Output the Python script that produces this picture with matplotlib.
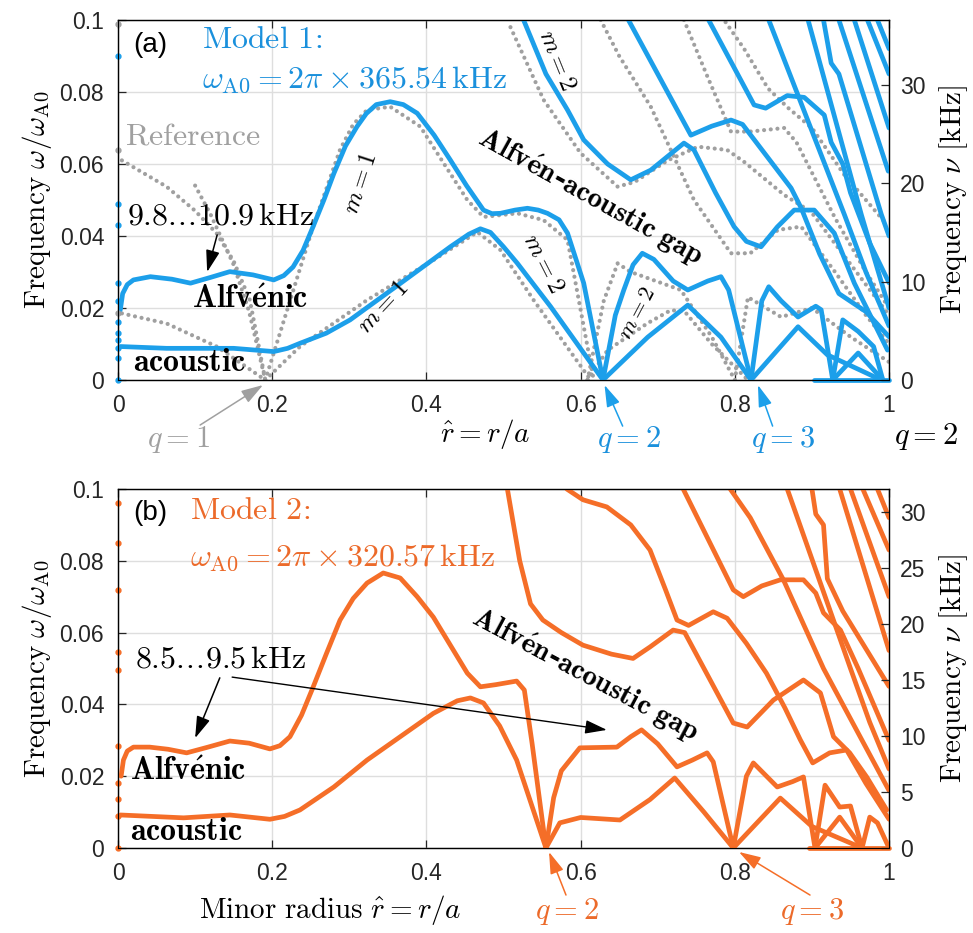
import matplotlib
matplotlib.use('Agg')
import matplotlib.pyplot as plt

plt.rcParams['mathtext.fontset'] = 'cm'
plt.rcParams['font.family'] = ['Liberation Sans', 'DejaVu Sans']

BLUE = '#1c9fea'
BLUE_TXT = '#1a90dc'
ORANGE = '#f56e28'
ORANGE_TXT = '#ec6a2a'
GRAY = '#a0a0a0'

# kHz per unit of omega/omega_A0
F_A0_MODEL1 = 365.54
F_A0_MODEL2 = 320.57

# ---- panel (a), model 1 continua (r, omega/omega_A0) ----
a_alfven = [(0.003, 0.0195), (0.006, 0.024), (0.012, 0.0265), (0.02, 0.0278), (0.042, 0.0287),
            (0.07, 0.028), (0.094, 0.0269), (0.12, 0.0285), (0.145, 0.0301), (0.175, 0.0292),
            (0.202, 0.0278), (0.215, 0.029), (0.227, 0.0314), (0.24, 0.036), (0.253, 0.0426),
            (0.267, 0.05), (0.28, 0.0574), (0.295, 0.065), (0.31, 0.0704), (0.322, 0.074),
            (0.335, 0.0765), (0.353, 0.0773), (0.37, 0.0765), (0.388, 0.0741), (0.41, 0.068),
            (0.431, 0.0611), (0.452, 0.054), (0.474, 0.0472), (0.485, 0.0462), (0.496, 0.0463),
            (0.515, 0.0472), (0.531, 0.0477), (0.545, 0.0472), (0.557, 0.0463), (0.572, 0.0445),
            (0.583, 0.0408), (0.604, 0.0269), (0.629, 0.0)]
a_acoustic = [(0.003, 0.0093), (0.063, 0.0088), (0.15, 0.0088), (0.202, 0.0079), (0.22, 0.0088),
              (0.236, 0.0102), (0.27, 0.013), (0.301, 0.0167), (0.366, 0.0268), (0.431, 0.037),
              (0.455, 0.0405), (0.47, 0.042), (0.483, 0.041), (0.5, 0.037), (0.518, 0.0324),
              (0.561, 0.0204), (0.629, 0.0)]
a_q2_upper = [(0.629, 0.0), (0.645, 0.018), (0.656, 0.025), (0.668, 0.032), (0.68, 0.0352),
              (0.695, 0.0335), (0.72, 0.0275), (0.739, 0.025), (0.765, 0.0275),
              (0.782, 0.0287), (0.792, 0.025), (0.821, 0.0)]
a_q2_lower = [(0.629, 0.0), (0.687, 0.0119), (0.739, 0.0208), (0.782, 0.0119), (0.821, 0.0)]
a_q3_upper = [(0.821, 0.0), (0.835, 0.022), (0.844, 0.0259), (0.86, 0.022), (0.882, 0.0175),
              (0.905, 0.0205), (0.912, 0.0195), (0.927, 0.0)]
a_q3_lower = [(0.821, 0.0), (0.882, 0.0148), (0.92, 0.007), (0.95, 0.004), (0.99, 0.0)]
a_q4_upper = [(0.927, 0.0), (0.94, 0.0167), (0.96, 0.0135), (0.98, 0.0093), (0.992, 0.0)]
a_q4_lower = [(0.927, 0.0), (0.96, 0.0075), (0.992, 0.0)]
a_zero = [(0.903, 0.0), (1.0, 0.0)]
a_m2_top = [(0.526, 0.1), (0.555, 0.085), (0.583, 0.075), (0.604, 0.0667), (0.635, 0.06),
            (0.665, 0.0556), (0.691, 0.0583), (0.734, 0.0658), (0.747, 0.0639), (0.775, 0.052),
            (0.799, 0.0426), (0.815, 0.0385), (0.834, 0.037), (0.855, 0.0425), (0.877, 0.0472),
            (0.903, 0.0472), (0.929, 0.0408), (0.955, 0.0269), (0.998, 0.0083)]
a_c = [(0.662, 0.1), (0.743, 0.068), (0.77, 0.0705), (0.795, 0.0722), (0.81, 0.071),
       (0.873, 0.0533), (0.886, 0.0478), (0.91, 0.035), (0.935, 0.024), (0.97, 0.019), (1.0, 0.012)]
a_d = [(0.766, 0.1), (0.825, 0.0764), (0.84, 0.0755), (0.868, 0.079), (0.89, 0.0785),
       (0.916, 0.0736), (0.925, 0.066), (0.94, 0.06), (0.95, 0.052), (0.975, 0.038), (1.0, 0.027)]
a_s1 = [(0.844, 0.1), (0.942, 0.046), (0.97, 0.03), (1.0, 0.015)]
a_s2 = [(0.895, 0.1), (0.964, 0.046), (1.0, 0.02)]
a_s3 = [(0.915, 0.1), (0.925, 0.088), (0.935, 0.085), (0.99, 0.046), (1.0, 0.04)]
a_s4 = [(0.935, 0.1), (0.999, 0.058)]
a_s5 = [(0.955, 0.1), (1.0, 0.07)]
a_s6 = [(0.972, 0.1), (1.0, 0.085)]
a_s7 = [(0.985, 0.1), (1.0, 0.092)]

# reference continua (gray, dotted)
g_alf_left = [(0.005, 0.061), (0.063, 0.0537), (0.1, 0.047), (0.128, 0.0407), (0.15, 0.033),
              (0.171, 0.0222), (0.191, 0.0)]
g_alf_right = [(0.191, 0.0), (0.21, 0.013), (0.253, 0.0426), (0.288, 0.064), (0.305, 0.071),
               (0.323, 0.075), (0.353, 0.0759), (0.392, 0.0704), (0.42, 0.061), (0.453, 0.05),
               (0.474, 0.0453), (0.518, 0.0463), (0.552, 0.0444), (0.583, 0.0389), (0.617, 0.0)]
g_sparse_left = [(0.1, 0.054), (0.12, 0.046), (0.15, 0.032), (0.17, 0.019), (0.191, 0.0)]
g_ac_left = [(0.005, 0.0185), (0.063, 0.0157), (0.128, 0.0093), (0.191, 0.0)]
g_ac_right = [(0.191, 0.0), (0.236, 0.0093), (0.323, 0.0222), (0.409, 0.0333), (0.466, 0.0411),
              (0.496, 0.0361), (0.539, 0.0222), (0.613, 0.0)]
g_r1 = [(0.609, 0.0), (0.635, 0.0083), (0.687, 0.0158), (0.717, 0.0194), (0.735, 0.019),
        (0.77, 0.01), (0.817, 0.0)]
g_r2 = [(0.609, 0.0), (0.63, 0.022), (0.648, 0.0324), (0.665, 0.03), (0.73, 0.025),
        (0.77, 0.012), (0.8, 0.0)]
g_r3 = [(0.509, 0.098), (0.552, 0.0778), (0.6, 0.063), (0.648, 0.0537), (0.67, 0.055),
        (0.713, 0.061), (0.752, 0.0648), (0.79, 0.0639), (0.812, 0.0606), (0.864, 0.0514),
        (0.899, 0.0467), (0.94, 0.035), (1.0, 0.018)]
g_r4 = [(0.626, 0.1), (0.65, 0.09), (0.691, 0.0759), (0.747, 0.05), (0.795, 0.0352),
        (0.82, 0.0352), (0.856, 0.0417), (0.886, 0.0426), (0.93, 0.03), (0.97, 0.018), (1.0, 0.01)]
g_r5 = [(0.734, 0.1), (0.765, 0.084), (0.795, 0.069), (0.82, 0.069), (0.864, 0.07),
        (0.88, 0.066), (0.93, 0.045), (0.97, 0.03), (1.0, 0.02)]
g_r6 = [(0.788, 0.0994), (0.812, 0.092), (0.843, 0.081), (0.869, 0.0756), (0.9, 0.07),
        (0.942, 0.057), (0.994, 0.044)]
g_r7 = [(0.8, 0.0), (0.817, 0.023), (0.86, 0.0175), (0.9, 0.02), (0.95, 0.012), (1.0, 0.005)]

a_edge_blue = [0.090, 0.049, 0.043, 0.027, 0.022, 0.016, 0.013, 0.011, 0.009, 0.006, 0.0]
a_edge_gray = [0.099, 0.064, 0.0185]

# ---- panel (b), model 2 continua ----
b_alfven = [(0.004, 0.02), (0.007, 0.0245), (0.012, 0.027), (0.02, 0.0281), (0.041, 0.0281),
            (0.065, 0.0275), (0.089, 0.0265), (0.115, 0.028), (0.145, 0.0298), (0.17, 0.0292),
            (0.197, 0.0276), (0.21, 0.0285), (0.223, 0.031), (0.238, 0.037), (0.253, 0.0448),
            (0.27, 0.054), (0.288, 0.0635), (0.305, 0.0695), (0.323, 0.0738), (0.344, 0.0766),
            (0.366, 0.0752), (0.388, 0.07), (0.409, 0.0643), (0.431, 0.0565), (0.453, 0.0487),
            (0.47, 0.0449), (0.49, 0.0455), (0.517, 0.0465), (0.527, 0.044), (0.537, 0.0292),
            (0.555, 0.0)]
b_acoustic = [(0.003, 0.0092), (0.085, 0.0084), (0.145, 0.0092), (0.197, 0.008), (0.216, 0.0088),
              (0.236, 0.0106), (0.28, 0.017), (0.323, 0.0245), (0.366, 0.031), (0.409, 0.0375),
              (0.44, 0.041), (0.457, 0.0418), (0.474, 0.0404), (0.495, 0.034), (0.517, 0.0245),
              (0.555, 0.0)]
b_q2_upper = [(0.555, 0.0), (0.565, 0.014), (0.575, 0.0215), (0.599, 0.0279), (0.647, 0.0281),
              (0.665, 0.031), (0.679, 0.0329), (0.7, 0.029), (0.725, 0.0226), (0.745, 0.0245),
              (0.764, 0.0265), (0.772, 0.024), (0.798, 0.0)]
b_q2_lower = [(0.555, 0.0), (0.573, 0.007), (0.6, 0.0085), (0.651, 0.0078), (0.69, 0.0135),
              (0.722, 0.0195), (0.76, 0.01), (0.798, 0.0)]
b_q3_upper = [(0.798, 0.0), (0.815, 0.02), (0.824, 0.0237), (0.855, 0.017), (0.875, 0.0185),
              (0.889, 0.0198), (0.904, 0.0)]
b_q3_lower = [(0.798, 0.0), (0.859, 0.0139), (0.9, 0.006), (0.965, 0.0)]
b_q4_upper = [(0.904, 0.0), (0.917, 0.0175), (0.936, 0.0114), (0.95, 0.0117), (0.965, 0.0)]
b_q4_lower = [(0.904, 0.0), (0.936, 0.0086), (0.965, 0.0)]
b_q5 = [(0.965, 0.0), (0.975, 0.0086), (0.985, 0.007), (1.0, 0.0)]
b_zero = [(0.896, 0.0), (1.0, 0.0)]
b_c = [(0.505, 0.1), (0.513, 0.09), (0.521, 0.08), (0.535, 0.068), (0.551, 0.0635),
       (0.575, 0.06), (0.603, 0.0565), (0.64, 0.054), (0.668, 0.0528), (0.69, 0.056),
       (0.72, 0.0607), (0.735, 0.06), (0.76, 0.05), (0.798, 0.0348), (0.816, 0.0337),
       (0.85, 0.0412), (0.889, 0.0468), (0.911, 0.0432), (0.928, 0.031), (0.949, 0.0265),
       (0.971, 0.0198), (0.997, 0.0106)]
b_d = [(0.582, 0.1), (0.603, 0.097), (0.634, 0.095), (0.665, 0.09), (0.69, 0.083),
       (0.71, 0.072), (0.725, 0.0635), (0.74, 0.062), (0.772, 0.0658), (0.79, 0.064),
       (0.815, 0.057), (0.841, 0.0487), (0.865, 0.039), (0.885, 0.0301), (0.901, 0.0237),
       (0.923, 0.0265), (0.945, 0.0273), (0.97, 0.018), (1.0, 0.008)]
b_e = [(0.733, 0.1), (0.798, 0.0719), (0.811, 0.07), (0.835, 0.073), (0.859, 0.0747),
       (0.889, 0.0747), (0.905, 0.071), (0.915, 0.0655), (0.937, 0.0607), (0.96, 0.05),
       (1.0, 0.03)]
b_f = [(0.794, 0.1), (0.807, 0.096), (0.82, 0.092), (0.863, 0.0747), (0.915, 0.05),
       (0.96, 0.032), (1.0, 0.016)]
b_s1 = [(0.868, 0.1), (0.95, 0.05), (0.975, 0.035), (1.0, 0.022)]
b_s2 = [(0.9, 0.1), (0.905, 0.093), (0.915, 0.09), (0.92, 0.075), (0.94, 0.066), (1.0, 0.045)]
b_s3 = [(0.936, 0.1), (1.0, 0.055)]
b_s4 = [(0.95, 0.1), (1.0, 0.07)]
b_s5 = [(0.966, 0.1), (1.0, 0.083)]
b_s6 = [(0.985, 0.1), (1.0, 0.092)]

b_edge = [0.096, 0.085, 0.072, 0.0546, 0.0496, 0.0283, 0.018, 0.0137, 0.009, 0.0]


def draw(ax, pts, color, lw=3.4, dotted=False, clip=True):
    r = [p[0] for p in pts]
    w = [p[1] for p in pts]
    if dotted:
        ax.plot(r, w, color=color, lw=3.0, ls=(0, (0.01, 1.6)),
                dash_capstyle='round', clip_on=clip, zorder=2)
    else:
        ax.plot(r, w, color=color, lw=lw, solid_capstyle='round',
                solid_joinstyle='round', clip_on=clip, zorder=3)


def arrow(ax, head, tail, color, lw=1.1):
    ax.annotate('', xy=head, xytext=tail, annotation_clip=False,
                arrowprops=dict(arrowstyle='-|>,head_length=0.95,head_width=0.3',
                                mutation_scale=14, color=color, lw=lw,
                                shrinkA=0, shrinkB=0))


def style_axes(ax, f_a0, right_ticks):
    ax.set_xlim(0, 1)
    ax.set_ylim(0, 0.1)
    ax.set_xticks([0, 0.2, 0.4, 0.6, 0.8, 1])
    ax.set_xticklabels(['0', '0.2', '0.4', '0.6', '0.8', '1'])
    ax.set_yticks([0, 0.02, 0.04, 0.06, 0.08, 0.1])
    ax.set_yticklabels(['0', '0.02', '0.04', '0.06', '0.08', '0.1'])
    ax.grid(True, color='#dedede', lw=1.0, zorder=0)
    ax.set_axisbelow(True)
    ax.tick_params(direction='in', top=True, right=False, labelsize=16.5,
                   length=6, width=0.9, colors='#262626', pad=10)
    for s in ax.spines.values():
        s.set_color('#262626')
        s.set_linewidth(1.0)
    ax.set_ylabel(r'$\mathrm{Frequency}\ \omega/\omega_{\mathrm{A0}}$', fontsize=21, labelpad=4)
    ax2 = ax.twinx()
    ax2.set_ylim(0, 0.1 * f_a0)
    ax2.set_yticks(right_ticks)
    ax2.set_yticklabels([str(t) for t in right_ticks])
    ax2.tick_params(direction='in', labelsize=16.5, length=6, width=0.9,
                    colors='#262626', pad=8)
    ax2.set_ylabel(r'$\mathrm{Frequency}\ \nu\ [\mathrm{kHz}]$', fontsize=21, labelpad=8)
    return ax2


fig = plt.figure(figsize=(9.73, 9.33), dpi=100)
ax_a = fig.add_axes([0.1213, 0.5927, 0.7924, 0.3859])
ax_b = fig.add_axes([0.1213, 0.0911, 0.7924, 0.3848])

# ----- panel (a) -----
style_axes(ax_a, F_A0_MODEL1, [0, 10, 20, 30])
for c in [g_alf_left, g_alf_right, g_sparse_left, g_ac_left, g_ac_right,
          g_r1, g_r2, g_r3, g_r4, g_r5, g_r6, g_r7]:
    draw(ax_a, c, GRAY, dotted=True)
for c in [a_alfven, a_acoustic, a_q2_upper, a_q2_lower, a_q3_upper, a_q3_lower,
          a_q4_upper, a_q4_lower, a_m2_top, a_c, a_d,
          a_s1, a_s2, a_s3, a_s4, a_s5, a_s6, a_s7]:
    draw(ax_a, c, BLUE)
draw(ax_a, a_zero, BLUE, clip=False)
ax_a.plot([0] * len(a_edge_gray), a_edge_gray, 'o', color=GRAY, ms=3.5, clip_on=False, zorder=4)
ax_a.plot([0] * len(a_edge_blue), a_edge_blue, 'o', color=BLUE, ms=3.5, clip_on=False, zorder=4)

ax_a.text(0.02, 0.93, '(a)', transform=ax_a.transAxes, fontsize=20, va='center')
ax_a.text(0.109, 0.944, r'$\mathrm{Model\ 1}\!:$', transform=ax_a.transAxes,
          fontsize=23, color=BLUE_TXT, va='center')
ax_a.text(0.109, 0.835, r'$\omega_{\mathrm{A0}} = 2\pi\times 365.54\,\mathrm{kHz}$',
          transform=ax_a.transAxes, fontsize=23, color=BLUE_TXT, va='center')
ax_a.text(0.009, 0.675, r'$\mathrm{Reference}$', transform=ax_a.transAxes,
          fontsize=23, color=GRAY, va='center')
ax_a.text(0.012, 0.453, r'$9.8.\!.\!.\!10.9\,\mathrm{kHz}$', transform=ax_a.transAxes,
          fontsize=23, va='center')
arrow(ax_a, (0.1156, 0.03), (0.1286, 0.0403), 'k')
ax_a.text(0.096, 0.0222, r'$\mathbf{Alfv\acute{e}nic}$', fontsize=23, va='center')
ax_a.text(0.019, 0.0047, r'$\mathbf{acoustic}$', fontsize=23, va='center')
ax_a.text(0.314, 0.0547, r'$m=1$', fontsize=18, rotation=72, ha='center', va='center')
ax_a.text(0.344, 0.0203, r'$m=1$', fontsize=18, rotation=47, ha='center', va='center')
ax_a.text(0.570, 0.0889, r'$m=2$', fontsize=18, rotation=-68, ha='center', va='center')
ax_a.text(0.552, 0.0325, r'$m=2$', fontsize=18, rotation=-63, ha='center', va='center')
ax_a.text(0.674, 0.0186, r'$m=2$', fontsize=16, rotation=62, ha='center', va='center')
ax_a.text(0.613, 0.0508, r'$\mathbf{Alfv\acute{e}n}$-$\mathbf{acoustic\ gap}$', fontsize=21,
          fontweight='bold', family=['DejaVu Serif'], rotation=-29, ha='center', va='center')

ax_a.text(0.078, -0.0165, r'$q=1$', fontsize=22, color=GRAY, ha='center', va='center')
arrow(ax_a, (0.188, -0.0014), (0.1065, -0.0125), GRAY)
ax_a.text(0.662, -0.0165, r'$q=2$', fontsize=22, color=BLUE_TXT, ha='center', va='center')
arrow(ax_a, (0.631, -0.0014), (0.6545, -0.0128), BLUE)
ax_a.text(0.862, -0.0165, r'$q=3$', fontsize=22, color=BLUE_TXT, ha='center', va='center')
arrow(ax_a, (0.83, -0.0014), (0.849, -0.0128), BLUE)
ax_a.text(1.048, -0.0158, r'$q=2$', fontsize=22, ha='center', va='center', clip_on=False)
ax_a.text(0.476, -0.15, r'$\hat{r} = r/a$', transform=ax_a.transAxes, fontsize=21,
          ha='center', va='center')

# ----- panel (b) -----
style_axes(ax_b, F_A0_MODEL2, [0, 5, 10, 15, 20, 25, 30])
for c in [b_alfven, b_acoustic, b_q2_upper, b_q2_lower, b_q3_upper, b_q3_lower,
          b_q4_upper, b_q4_lower, b_q5, b_c, b_d, b_e, b_f,
          b_s1, b_s2, b_s3, b_s4, b_s5, b_s6]:
    draw(ax_b, c, ORANGE)
draw(ax_b, b_zero, ORANGE, clip=False)
ax_b.plot([0] * len(b_edge), b_edge, 'o', color=ORANGE, ms=3.5, clip_on=False, zorder=4)

ax_b.text(0.02, 0.933, '(b)', transform=ax_b.transAxes, fontsize=20, va='center')
ax_b.text(0.093, 0.94, r'$\mathrm{Model\ 2}\!:$', transform=ax_b.transAxes,
          fontsize=23, color=ORANGE_TXT, va='center')
ax_b.text(0.093, 0.81, r'$\omega_{\mathrm{A0}} = 2\pi\times 320.57\,\mathrm{kHz}$',
          transform=ax_b.transAxes, fontsize=23, color=ORANGE_TXT, va='center')
ax_b.text(0.022, 0.524, r'$8.5.\!.\!.\!9.5\,\mathrm{kHz}$', transform=ax_b.transAxes,
          fontsize=23, va='center')
arrow(ax_b, (0.1, 0.0306), (0.132, 0.0474), 'k')
arrow(ax_b, (0.634, 0.0329), (0.148, 0.0476), 'k', lw=1.0)
ax_b.text(0.016, 0.0212, r'$\mathbf{Alfv\acute{e}nic}$', fontsize=23, va='center')
ax_b.text(0.016, 0.0045, r'$\mathbf{acoustic}$', fontsize=23, va='center')
ax_b.text(0.606, 0.0482, r'$\mathbf{Alfv\acute{e}n}$-$\mathbf{acoustic\ gap}$', fontsize=21,
          fontweight='bold', family=['DejaVu Serif'], rotation=-28, ha='center', va='center')
ax_b.text(0.582, -0.0178, r'$q=2$', fontsize=22, color=ORANGE_TXT, ha='center', va='center')
arrow(ax_b, (0.559, -0.0011), (0.581, -0.0131), ORANGE)
ax_b.text(0.9, -0.0178, r'$q=3$', fontsize=22, color=ORANGE_TXT, ha='center', va='center')
arrow(ax_b, (0.8054, -0.0011), (0.8975, -0.0131), ORANGE)
ax_b.text(0.275, -0.173, r'$\mathrm{Minor\ radius}\ \hat{r} = r/a$', transform=ax_b.transAxes,
          fontsize=21, ha='center', va='center')

fig.savefig('out.png', dpi=100)
